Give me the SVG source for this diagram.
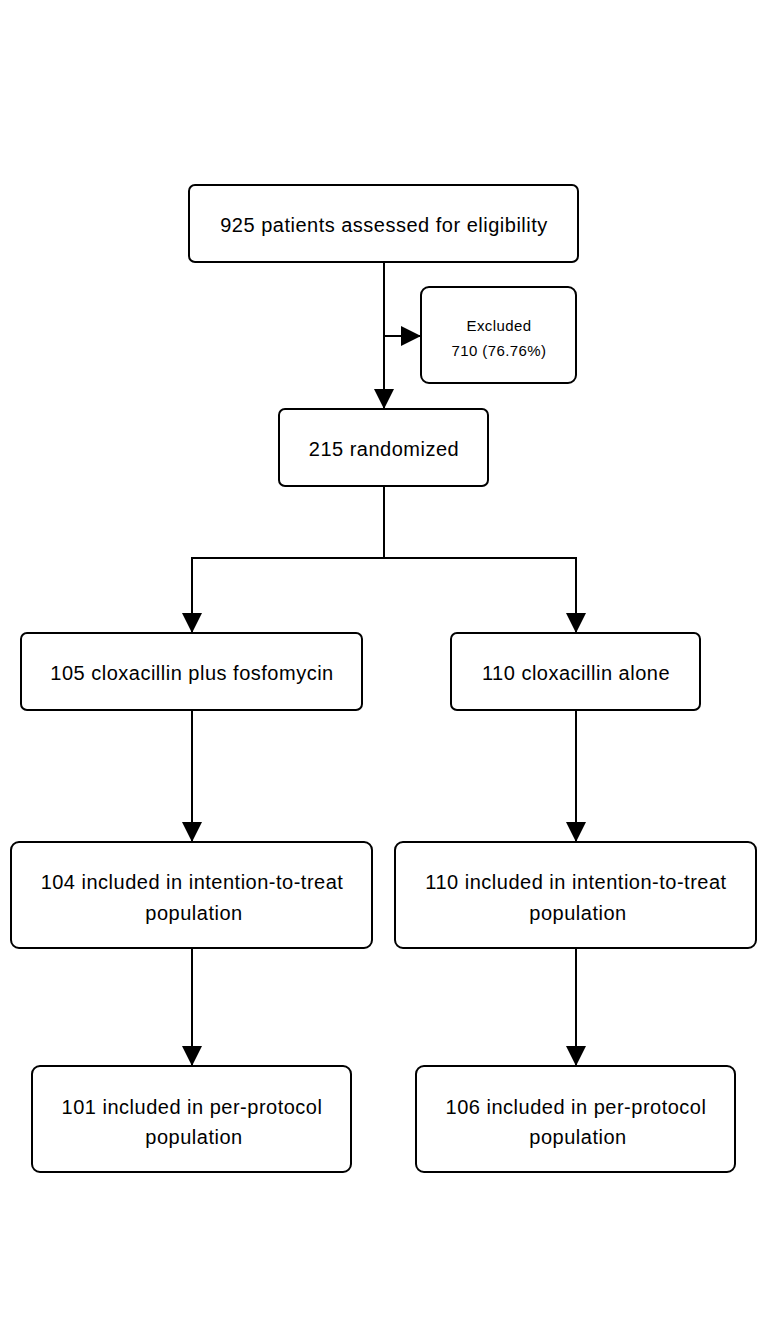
<svg xmlns="http://www.w3.org/2000/svg" width="768" height="1344" viewBox="0 0 768 1344">
<style>
.box{fill:#fff;stroke:#000;stroke-width:2}
.t{font-family:"Liberation Sans",Arial,sans-serif;font-size:20px;letter-spacing:0.5px;fill:#000;text-anchor:middle}
.s{font-family:"Liberation Sans",Arial,sans-serif;font-size:15px;letter-spacing:0.4px;fill:#000;text-anchor:middle}
.c{fill:none;stroke:#000;stroke-width:2}
</style>
<defs>
<marker id="ah" markerUnits="userSpaceOnUse" markerWidth="20" markerHeight="20" viewBox="0 0 20 20" refX="20" refY="10" orient="auto">
<path d="M0,0 L20,10 L0,20 z" fill="#000"/>
</marker>
</defs>
<rect width="768" height="1344" fill="#fff"/>
<g id="connectors">
<path class="c" d="M384,262 V409" marker-end="url(#ah)"/>
<path class="c" d="M384,336 H421" marker-end="url(#ah)"/>
<path class="c" d="M384,486 V558 H192 V633" marker-end="url(#ah)"/>
<path class="c" d="M384,558 H576 V633" marker-end="url(#ah)"/>
<path class="c" d="M192,710 V842" marker-end="url(#ah)"/>
<path class="c" d="M576,710 V842" marker-end="url(#ah)"/>
<path class="c" d="M192,948 V1066" marker-end="url(#ah)"/>
<path class="c" d="M576,948 V1066" marker-end="url(#ah)"/>
</g>
<g id="n1"><rect class="box" x="189" y="185" width="389" height="77" rx="6"/><text class="t" x="384" y="232">925 patients assessed for eligibility</text></g>
<g id="n2"><rect class="box" x="421" y="287" width="155" height="96" rx="8"/><text class="s" x="499" y="331">Excluded</text><text class="s" x="499" y="356">710 (76.76%)</text></g>
<g id="n3"><rect class="box" x="279" y="409" width="209" height="77" rx="6"/><text class="t" x="384" y="456">215 randomized</text></g>
<g id="n4"><rect class="box" x="21" y="633" width="341" height="77" rx="6"/><text class="t" x="192" y="680">105 cloxacillin plus fosfomycin</text></g>
<g id="n5"><rect class="box" x="451" y="633" width="249" height="77" rx="6"/><text class="t" x="576" y="680">110 cloxacillin alone</text></g>
<g id="n6"><rect class="box" x="11" y="842" width="361" height="106" rx="8"/><text class="t" x="192" y="889">104 included in intention-to-treat</text><text class="t" x="194" y="920">population</text></g>
<g id="n7"><rect class="box" x="395" y="842" width="361" height="106" rx="8"/><text class="t" x="576" y="889">110 included in intention-to-treat</text><text class="t" x="578" y="920">population</text></g>
<g id="n8"><rect class="box" x="32" y="1066" width="319" height="106" rx="8"/><text class="t" x="192" y="1114">101 included in per-protocol</text><text class="t" x="194" y="1144">population</text></g>
<g id="n9"><rect class="box" x="416" y="1066" width="319" height="106" rx="8"/><text class="t" x="576" y="1114">106 included in per-protocol</text><text class="t" x="578" y="1144">population</text></g>
</svg>
